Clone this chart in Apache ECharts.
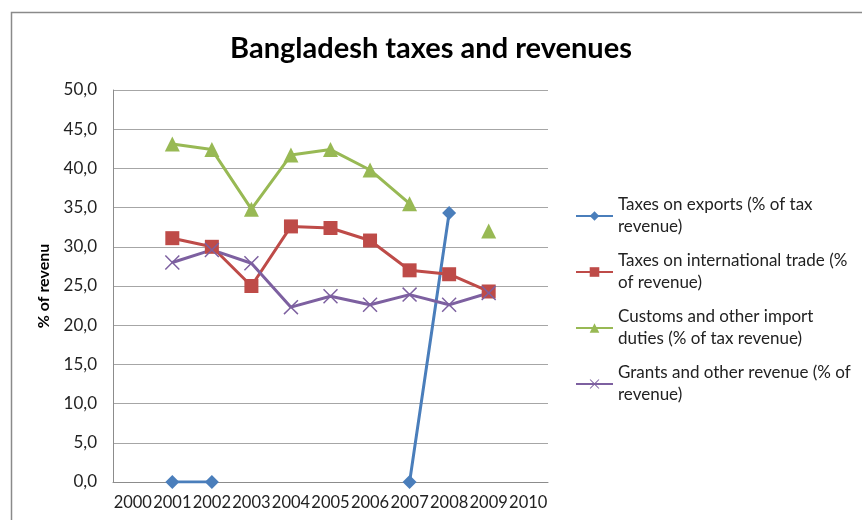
<!DOCTYPE html>
<html><head><meta charset="utf-8">
<script src="https://cdn.jsdelivr.net/npm/echarts@6/dist/echarts.min.js"></script>
<style>html,body{margin:0;padding:0;background:#fff}#c{width:862px;height:520px}</style>
</head><body><div id="c"></div>
<script>
const years = ['2000','2001','2002','2003','2004','2005','2006','2007','2008','2009','2010'];
const taxesExports = [null, 0, 0, null, null, null, null, 0, 34.3, null, null];
const taxesTrade = [null, 31.1, 30.0, 25.0, 32.6, 32.4, 30.8, 27.0, 26.5, 24.3, null];
const customs = [null, 43.1, 42.4, 34.8, 41.7, 42.4, 39.8, 35.5, null, 32.0, null];
const grants = [null, 28.0, 29.6, 27.9, 22.3, 23.7, 22.6, 23.9, 22.6, 24.1, null];
const seriesNames = ['Taxes on exports (% of tax revenue)','Taxes on international trade (% of revenue)','Customs and other import duties (% of tax revenue)','Grants and other revenue (% of revenue)'];
const legendLabels = ['Taxes on exports (% of tax\nrevenue)','Taxes on international trade (%\nof revenue)','Customs and other import\nduties (% of tax revenue)','Grants and other revenue (% of\nrevenue)'];
const yTicks = {min: 0, max: 50, interval: 5};

const FONT = 'Lato';
const colors = ['#4A7EBB','#BE4B48','#98B954','#7D60A0'];
const xShape = 'path://M0,0.7 L0.7,0 L5,4.3 L9.3,0 L10,0.7 L5.7,5 L10,9.3 L9.3,10 L5,5.7 L0.7,10 L0,9.3 L4.3,5 Z';
const symbols = ['diamond','rect','triangle',xShape];
const symSizes = [14,14,15,15];
const dataSets = [taxesExports, taxesTrade, customs, grants];

const chart = echarts.init(document.getElementById('c'));
const legendTops = [183, 239, 295, 351];
chart.setOption({
  animation: false,
  textStyle: {fontFamily: FONT},
  title: {text: 'Bangladesh taxes and revenues', left: 'center', top: 29,
    textStyle: {fontFamily: FONT, fontWeight: 'bold', fontSize: 29, color: '#000'}},
  graphic: [{type: 'rect', shape: {x: 11.5, y: 12.5, width: 880, height: 540},
    style: {fill: 'none', stroke: '#8a8a8a', lineWidth: 1.5}, silent: true}],
  grid: {left: 113, right: 314, top: 90, bottom: 38},
  legend: seriesNames.map((n, i) => ({
    data: [n], orient: 'vertical', left: 575, top: legendTops[i],
    itemWidth: 37, itemHeight: 12, itemGap: 0, padding: 0,
    formatter: () => legendLabels[i],
    textStyle: {fontFamily: FONT, fontSize: 17, color: '#222', lineHeight: 22, padding: [22, 0, 0, 0]}
  })),
  xAxis: {type: 'category', data: years, boundaryGap: true,
    axisLine: {lineStyle: {color: '#8c8c8c', width: 1}}, axisTick: {show: false},
    axisLabel: {interval: 0, color: '#222', fontSize: 16.5, margin: 12, fontFamily: FONT},
    splitLine: {show: false}},
  yAxis: {type: 'value', min: yTicks.min, max: yTicks.max, interval: yTicks.interval,
    name: '% of revenu', nameLocation: 'middle', nameRotate: 90, nameGap: 61,
    nameTextStyle: {fontFamily: FONT, fontWeight: 'bold', fontSize: 16, color: '#000'},
    axisLine: {show: true, lineStyle: {color: '#8c8c8c', width: 1}}, axisTick: {show: false},
    axisLabel: {color: '#222', fontSize: 17, margin: 16, fontFamily: FONT,
      formatter: v => v.toFixed(1).replace('.', ',')},
    splitLine: {lineStyle: {color: '#a6a6a6', width: 1}}},
  series: seriesNames.map((n, i) => ({
    name: n, type: 'line', data: dataSets[i], connectNulls: false,
    symbol: symbols[i], symbolSize: symSizes[i], showSymbol: true,
    lineStyle: {color: colors[i], width: 3},
    itemStyle: {color: colors[i]}
  }))
});
</script></body></html>
